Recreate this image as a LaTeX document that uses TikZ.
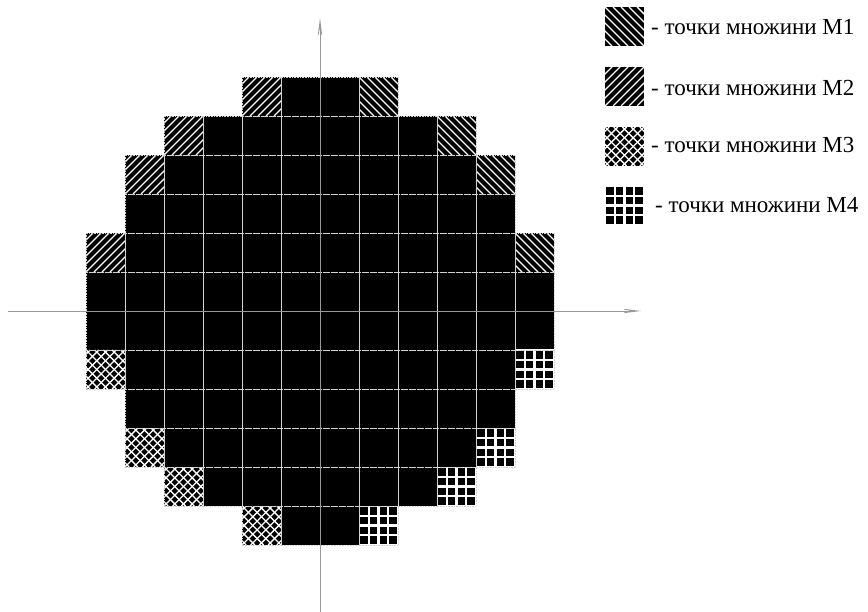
\documentclass[tikz,border=0pt]{standalone}
\usepackage{fontspec}
\setmainfont{Liberation Serif}
\usetikzlibrary{arrows.meta}
% M1: lines like "\"
\newcommand\mone[2]{%
  \begin{scope}
    \clip (#1,#2) rectangle ++(39,39);
    \fill[black] (#1,#2) rectangle ++(39,39);
    \foreach \k in {-40,-32,...,40} \draw[hatchline] (#1+\k,#2) -- ++(39,39);
  \end{scope}}
% M2: lines like "/"
\newcommand\mtwo[2]{%
  \begin{scope}
    \clip (#1,#2) rectangle ++(39,39);
    \fill[black] (#1,#2) rectangle ++(39,39);
    \foreach \k in {-40,-32,...,40} \draw[hatchline] (#1+\k,#2+39) -- ++(39,-39);
  \end{scope}}
% M3: cross hatch
\newcommand\mthree[2]{%
  \begin{scope}
    \clip (#1,#2) rectangle ++(39,39);
    \fill[black] (#1,#2) rectangle ++(39,39);
    \foreach \k in {-43.5,-34.8,...,44} {
      \draw[crossline] (#1+\k,#2) -- ++(39,39);
      \draw[crossline] (#1+\k,#2+39) -- ++(39,-39);}
  \end{scope}}
% M4: grid
\newcommand\mfour[2]{%
  \begin{scope}
    \clip (#1,#2) rectangle ++(39,39);
    \fill[black] (#1,#2) rectangle ++(39,39);
    \foreach \k in {0,9.75,...,40} {
      \draw[gridline] (#1+\k,#2) -- ++(0,39);
      \draw[gridline] (#1,#2+\k) -- ++(39,0);}
  \end{scope}}
\newcommand\blk[2]{\fill[black] (#1,#2) rectangle ++(39,39);}
\begin{document}
\begin{tikzpicture}[x={(1pt,0)},y={(0,-1pt)},
  hatchline/.style={white,line width=1.4pt},
  crossline/.style={white,line width=1.3pt},
  gridline/.style={white,line width=2.2pt},
  cellborder/.style={draw=gray!35,line width=0.9pt,dash pattern=on 1pt off 0.6pt},
  axis/.style={gray!80,line width=0.6pt},
  legendtext/.style={anchor=west,inner sep=0pt,font=\fontsize{23}{26}\selectfont}]
\useasboundingbox (0,0) rectangle (868,612);
% black cells per row: first and last black column
\foreach \r/\a/\b in {0/5/6,1/3/8,2/2/9,3/1/10,4/1/10,5/0/11,6/0/11,7/1/10,8/1/10,9/2/9,10/3/8,11/5/6}{
  \foreach \c in {\a,...,\b}{
    \blk{86+39*\c}{77+39*\r}
  }
}
% M1 cells
\foreach \r/\c in {0/7,1/9,2/10,4/11}{ \mone{86+39*\c}{77+39*\r} }
% M2 cells
\foreach \r/\c in {0/4,1/2,2/1,4/0}{ \mtwo{86+39*\c}{77+39*\r} }
% M3 cells
\foreach \r/\c in {7/0,9/1,10/2,11/4}{ \mthree{86+39*\c}{77+39*\r} }
% M4 cells
\foreach \r/\c in {7/11,9/10,10/9,11/7}{ \mfour{86+39*\c}{77+39*\r} }
% cell borders
\foreach \r/\a/\b in {0/4/7,1/2/9,2/1/10,3/1/10,4/0/11,5/0/11,6/0/11,7/0/11,8/1/10,9/1/10,10/2/9,11/4/7}{
  \foreach \c in {\a,...,\b}{
    \draw[cellborder] (86+39*\c,77+39*\r) rectangle ++(39,39);
  }
}
% axes
\coordinate (xs) at (8,311);
\coordinate (xe) at (641,311);
\coordinate (ys) at (320,612);
\coordinate (ye) at (320,18);
\draw[axis,-{Stealth[length=24pt,width=6pt,inset=14pt,open]}] (xs) -- (xe);
\draw[axis,-{Stealth[length=24pt,width=6pt,inset=14pt,open]}] (ys) -- (ye);
% legend
\mone{605}{7}
\mtwo{605}{67}
\mthree{605}{127}
\mfour{605}{186}
\node[legendtext] (l1) at (651,27) {- точки множини M1};
\node[legendtext] (l2) at (651,88) {- точки множини M2};
\node[legendtext] (l3) at (651,145) {- точки множини M3};
\node[legendtext] (l4) at (655,205) {- точки множини M4};
\end{tikzpicture}
\end{document}
